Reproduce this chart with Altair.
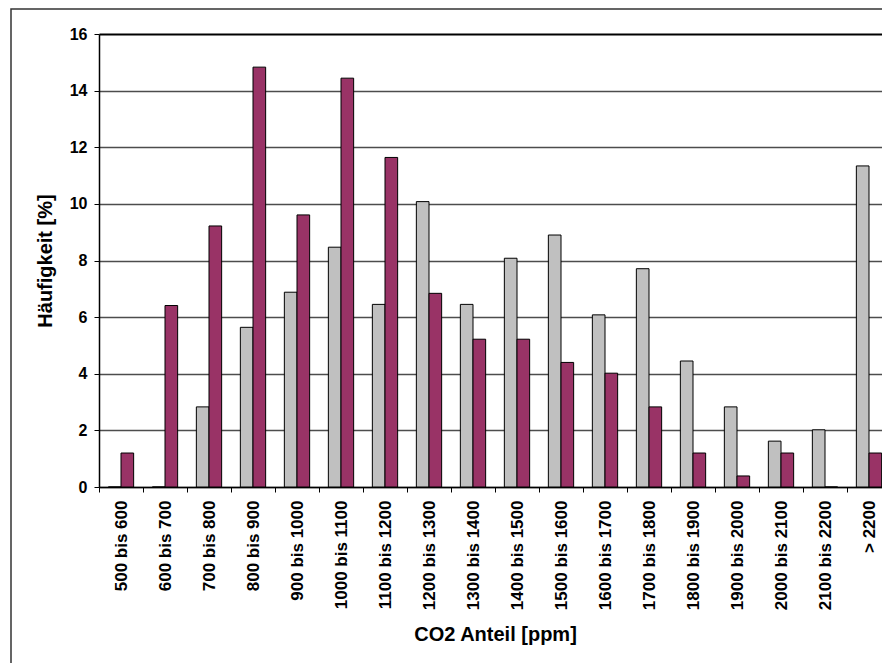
import altair as alt
import pandas as pd

categories = ["500 bis 600", "600 bis 700", "700 bis 800", "800 bis 900", "900 bis 1000",
              "1000 bis 1100", "1100 bis 1200", "1200 bis 1300", "1300 bis 1400",
              "1400 bis 1500", "1500 bis 1600", "1600 bis 1700", "1700 bis 1800",
              "1800 bis 1900", "1900 bis 2000", "2000 bis 2100", "2100 bis 2200", "> 2200"]
series_names = ["Serie 1", "Serie 2"]
gray_values = [0, 0, 2.83, 5.64, 6.88, 8.47, 6.45, 10.08, 6.45, 8.08, 8.9, 6.08, 7.71,
               4.45, 2.83, 1.62, 2.02, 11.34]
maroon_values = [1.2, 6.41, 9.22, 14.83, 9.61, 14.44, 11.64, 6.84, 5.22, 5.22, 4.4, 4.02,
                 2.83, 1.2, 0.39, 1.2, 0, 1.2]
y_ticks = [0, 2, 4, 6, 8, 10, 12, 14, 16]

rows = []
for c, g, m in zip(categories, gray_values, maroon_values):
    rows.append({"cat": c, "series": series_names[0], "val": g})
    rows.append({"cat": c, "series": series_names[1], "val": m})
df = pd.DataFrame(rows)

FONT = "Liberation Sans"

bars = alt.Chart(df).mark_bar(stroke="black", strokeWidth=1).encode(
    x=alt.X("cat:N", sort=categories,
            scale=alt.Scale(paddingInner=0, paddingOuter=0, range=[0, 792]),
            axis=alt.Axis(title="CO2 Anteil [ppm]", labelAngle=-90, tickBand="extent",
                          labelFontSize=17, labelPadding=8, tickSize=5,
                          titlePadding=15, titleFontSize=20, titleX=396)),
    xOffset=alt.XOffset("series:N", sort=series_names,
                        scale=alt.Scale(paddingOuter=0.739, paddingInner=0)),
    y=alt.Y("val:Q", scale=alt.Scale(domain=[0, 16], nice=False),
            axis=alt.Axis(title="Häufigkeit [%]", values=y_ticks, grid=True,
                          gridColor=alt.condition("datum.value == 16", alt.value("#000000"), alt.value("#4d4d4d")),
                          gridWidth=alt.condition("datum.value == 16", alt.value(2), alt.value(1.3)),
                          labelFontSize=16, labelPadding=7, tickSize=5,
                          titlePadding=14, titleFontSize=20)),
    color=alt.Color("series:N", sort=series_names,
                    scale=alt.Scale(domain=series_names, range=["#C0C0C0", "#993366"]),
                    legend=None),
)

frame = alt.Chart(pd.DataFrame({"a": [0]})).mark_rect(
    fill="transparent", stroke="#333333", strokeWidth=1.5
).encode(
    x=alt.value(-88), x2=alt.value(2000), y=alt.value(-25), y2=alt.value(2000)
)

chart = alt.layer(frame, bars).properties(
    width=783, height=453,
    autosize=alt.AutoSizeParams(type="none"),
    padding={"left": 91, "top": 26, "right": 0, "bottom": 176},
).configure_view(stroke=None).configure_axis(
    labelFont=FONT, titleFont=FONT, labelFontWeight="bold", titleFontWeight="bold",
    labelColor="black", titleColor="black", domainColor="black", tickColor="black",
    domainWidth=1.5,
)

chart.save("out.html", embed_options={"renderer": "svg", "actions": False})
